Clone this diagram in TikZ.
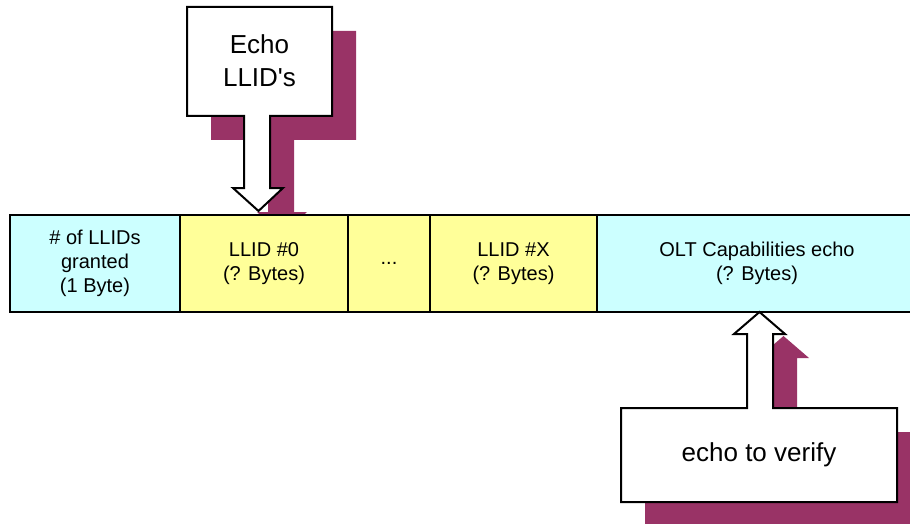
\documentclass[tikz,border=0pt]{standalone}
\usepackage{fontspec}
\setmainfont{Liberation Sans}
\usetikzlibrary{positioning}

\definecolor{cellcyan}{HTML}{CCFFFF}
\definecolor{cellyellow}{HTML}{FFFF99}
\definecolor{shadowpurple}{HTML}{993366}

\tikzset{
	field/.style={draw,line width=1pt,outer sep=0pt,minimum height=48.5pt,inner sep=0pt,align=center,font=\fontsize{10}{12}\selectfont},
	calloutline/.style={draw,fill=white,line width=1pt,line join=miter},
	calloutshadow/.style={fill=shadowpurple,shift={(24,24)}},
	callouttext/.style={align=center,font=\fontsize{13}{16.5}\selectfont},
}

% callout outlines, in pixels of the picture
\newcommand{\echodown}[1]{\path[#1](187,7)--(332,7)--(332,116)--(270,116)--(270,188)--(283,188)--(258.5,211)--(233,188)--(244,188)--(244,116)--(187,116)--cycle;}
\newcommand{\echoup}[1]{\path[#1](621,408)--(747,408)--(747,334)--(734,334)--(759.5,312)--(785,334)--(773,334)--(773,408)--(897,408)--(897,502)--(621,502)--cycle;}

\begin{document}
\begin{tikzpicture}[x=0.5pt,y=-0.5pt]

\useasboundingbox(0,0)rectangle(910,524);

\echodown{calloutshadow}
\echoup{calloutshadow}
\echodown{calloutline}

\node[callouttext] (echo) at (259.5,61) {Echo\\LLID\textquotesingle s};

% the frame
\node[field,fill=cellcyan,minimum width=85pt,anchor=north west] (count) at (10,215) {\# of LLIDs\\granted\\(1 Byte)};
\node[field,fill=cellyellow,minimum width=84pt,right=0pt of count] (first) {LLID \#0\\(? Bytes)};
\node[field,fill=cellyellow,minimum width=41pt,right=0pt of first] (dots) {...};
\node[field,fill=cellyellow,minimum width=83.5pt,right=0pt of dots] (last) {LLID \#X\\(? Bytes)};
\node[field,fill=cellcyan,minimum width=160pt,right=0pt of last] (olt) {OLT Capabilities echo\\(? Bytes)};

\echoup{calloutline}
\node[callouttext] (verify) at (759,455) {echo to verify};

\end{tikzpicture}
\end{document}
